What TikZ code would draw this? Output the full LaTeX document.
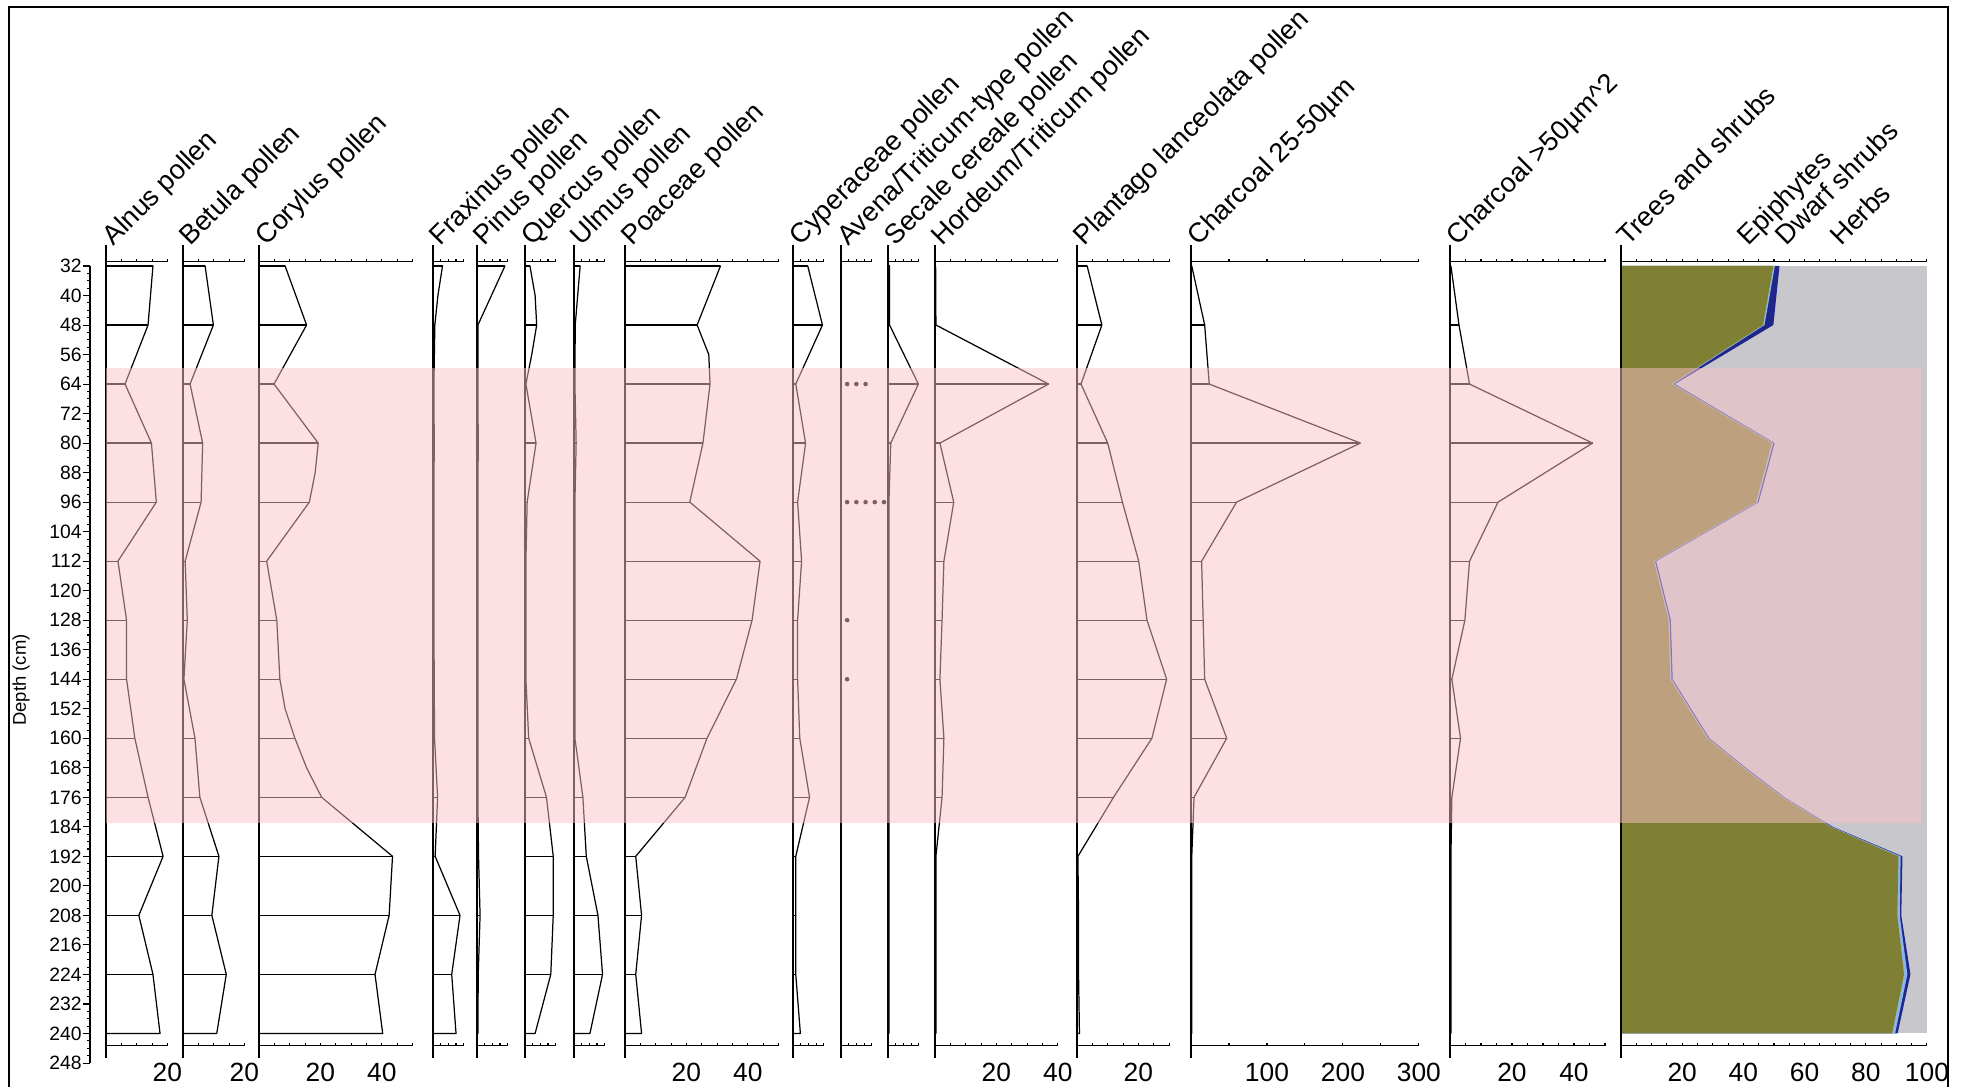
\documentclass[tikz,border=0pt]{standalone}
\usepackage{fontspec}
\setmainfont{Liberation Sans}
\definecolor{zonepink}{RGB}{251,193,199}
\definecolor{treesolive}{RGB}{127,128,51}
\definecolor{herbgrey}{RGB}{200,200,204}
\definecolor{dwarfnavy}{RGB}{32,38,138}
\definecolor{epiblue}{RGB}{140,182,232}
\tikzset{%
curve/.style={line width=0.7pt,line join=round},
bar/.style={line width=0.7pt},
zeroline/.style={line width=1pt},
scaleline/.style={line width=0.6pt},
title/.style={rotate=45,anchor=base west,inner sep=0pt,font=\fontsize{15.5}{18}\selectfont},
ticklabel/.style={inner sep=0pt,font=\fontsize{15}{17}\selectfont},
depthlabel/.style={anchor=east,inner sep=0pt,font=\fontsize{11}{13}\selectfont},
panel/.style 2 args={shift={(#1,147.92)},x=#2,y=-0.0738cm},
}
\tikzset{%
pics/.cd,
profile/.style args={#1#2#3}{
  code={\draw[curve] (0,32) \foreach \d/\v in #1 {-- (\v,\d)} -- (0,240);
       \foreach \d/\v in #1 {\pgfmathtruncatemacro\r{mod(\d,16)}
         \ifnum\r=0 \draw[bar] (0,\d) -- (\v,\d);\fi}
       \draw[zeroline] (0,26.3) -- (0,246.6);
       \draw[scaleline] (0,30.9) -- (#2,30.9) (0,243.4) -- (#2,243.4);
       \foreach \t in {0,#3,...,#2}
         \draw[scaleline] (\t,30.9) -- (\t,30.1) (\t,243.4) -- (\t,242.6);
  }
},
}
% depth/value
\def\alnus{32/15.3,48/13.7,64/6.2,80/14.8,96/16.4,112/3.9,128/6.7,144/6.7,160/9.4,176/13.7,192/18.6,208/10.7,224/15.3,240/17.6}
\def\betula{32/7.2,48/9.9,64/2.3,80/6.4,96/5.9,112/0.7,128/1.4,144/0.3,160/3.9,176/5.5,192/11.7,208/9.4,224/14.1,240/11.0}
\def\corylus{32/8.5,48/15.5,64/4.9,80/19.3,88/18.3,96/16.4,112/2.5,128/5.8,144/6.8,152/8.5,160/11.7,168/15.5,176/20.4,192/43.5,208/42.4,224/37.8,240/40.3}
\def\fraxinus{32/3.1,40/1.6,48/0.6,64/0.3,80/0.4,96/0.3,112/0.3,128/0.3,144/0.4,160/0.5,176/1.5,192/0.7,208/8.8,224/6.1,240/7.5}
\def\pinus{32/9.1,48/0.3,64/0.3,80/0.4,96/0.3,112/0.3,128/0.3,144/0.3,160/0.3,176/0.3,192/0.5,208/1.0,224/0.4,240/0.3}
\def\quercus{32/1.6,40/3.3,48/3.8,56/2.2,64/0.3,80/3.6,96/0.7,112/0.3,128/0.3,144/0.3,160/1.2,176/7.0,192/9.2,208/9.2,224/8.4,240/3.3}
\def\ulmus{32/2.0,48/0.4,64/0.3,80/0.7,96/0.3,112/0.3,128/0.3,144/0.3,160/0.3,176/2.9,192/4.0,208/7.8,224/9.3,240/5.2}
\def\poaceae{32/31.1,48/23.5,56/27.3,64/27.7,80/25.4,96/21.1,112/44.0,128/41.4,144/36.3,160/26.7,176/19.6,192/3.5,208/5.4,224/3.5,240/5.4}
\def\cyperaceae{32/4.8,48/9.6,64/0.9,80/4.1,96/1.5,112/2.8,128/1.5,144/1.5,160/2.2,176/5.4,192/0.9,208/0.9,224/0.9,240/2.4}
\def\avena{32/0,240/0}
\def\secale{32/0.5,48/0.5,64/9.9,80/0.9,96/0.3,112/0.3,128/0.3,144/0.3,160/0.3,176/0.3,192/0.3,208/0.3,224/0.3,240/0.3}
\def\hordeum{32/0.2,48/0.3,64/37.0,80/1.6,96/6.1,112/2.9,128/2.3,144/1.6,160/2.9,176/2.3,192/0.3,208/0.3,224/0.3,240/0.3}
\def\plantago{32/3.3,48/8.1,64/1.3,80/10.0,96/14.8,112/20.1,128/22.8,144/29.2,160/24.4,176/11.9,192/0.3,208/0.5,224/0.5,240/0.8}
\def\charsmall{32/1,48/18,64/24,80/223,96/60,112/14,128/16,144/18,160/47,176/4,192/1,208/1,224/1,240/1}
\def\charlarge{32/0.3,48/2.9,64/6.3,80/46.0,96/15.5,112/6.3,128/4.8,144/0.6,160/3.4,176/0.6,192/0.3,208/0.3,224/0.3,240/0.3}
\def\trees{32/49.8,48/46.4,64/16.5,80/49.3,96/44.1,112/10.7,128/15.5,144/16.1,160/28.1,168/40,176/52.6,184/68.4,192/90.7,208/90.3,224/92.5,240/88.6}
\def\epiph{32/50.3,48/46.9,64/17.0,80/49.8,96/44.6,112/11.1,128/15.9,144/16.5,160/28.5,168/40.4,176/53.0,184/68.8,192/91.4,208/91.1,224/93.6,240/89.6}
\def\dwarf{32/51.8,48/49.8,64/17.6,80/50.2,96/45.0,112/11.5,128/16.3,144/16.9,160/28.9,168/40.8,176/53.4,184/69.2,192/92.0,208/91.6,224/94.6,240/90.4}
\begin{document}
\begin{tikzpicture}[x=0.02cm,y=-0.02cm]
\useasboundingbox (0,0) rectangle (1962,1087);
\draw[line width=1.3pt] (9,1100) |- (1948,7) -- (1948,1100);
% depth scale
\draw[scaleline] (90,266) -- (90,1063);
\foreach \d in {32,34,...,248} \draw[scaleline] (90,{147.92+3.69*\d}) -- ++(-3.5,0);
\foreach \d in {32,40,...,248} {
  \draw[scaleline] (90,{147.92+3.69*\d}) -- ++(-7,0);
  \node[depthlabel] (depth\d) at (82,{147.92+3.69*\d}) {\d};
}
\node[rotate=90,inner sep=0pt,font=\fontsize{10.5}{12}\selectfont] (depthtitle) at (21,680) {Depth (cm)};
% summary diagram
\begin{scope}[panel={1621}{0.0612cm}]
  \fill[herbgrey] (0,32) rectangle (100,240);
  \fill[dwarfnavy] (0,32) \foreach \d/\v in \dwarf {-- (\v,\d)} -- (0,240) -- cycle;
  \fill[epiblue] (0,32) \foreach \d/\v in \epiph {-- (\v,\d)} -- (0,240) -- cycle;
  \fill[treesolive] (0,32) \foreach \d/\v in \trees {-- (\v,\d)} -- (0,240) -- cycle;
  \draw[zeroline] (0,26.3) -- (0,246.6);
  \draw[scaleline] (0,30.9) -- (100,30.9) (0,243.4) -- (100,243.4);
  \foreach \t in {0,5,...,100}
    \draw[scaleline] (\t,30.9) -- (\t,30.1) (\t,243.4) -- (\t,242.6);
  \foreach \l in {20,40,60,80,100} \node[ticklabel] (sum\l) at (\l,250.7) {\l};
\end{scope}
% taxa
\begin{scope}[panel={106}{0.0614cm}]
  \pic {profile={\alnus}{20}{5}};
  \node[ticklabel] (alnus20) at (20,250.7) {20};
\end{scope}
\begin{scope}[panel={183}{0.0614cm}]
  \pic {profile={\betula}{20}{5}};
  \node[ticklabel] (betula20) at (20,250.7) {20};
\end{scope}
\begin{scope}[panel={259}{0.0614cm}]
  \pic {profile={\corylus}{50}{5}};
  \foreach \l in {20,40} \node[ticklabel] (corylus\l) at (\l,250.7) {\l};
\end{scope}
\begin{scope}[panel={433}{0.0614cm}]
  \pic {profile={\fraxinus}{10}{2.5}};
\end{scope}
\begin{scope}[panel={477}{0.0614cm}]
  \pic {profile={\pinus}{10}{2.5}};
\end{scope}
\begin{scope}[panel={525}{0.0614cm}]
  \pic {profile={\quercus}{10}{2.5}};
\end{scope}
\begin{scope}[panel={574}{0.0614cm}]
  \pic {profile={\ulmus}{10}{2.5}};
\end{scope}
\begin{scope}[panel={625}{0.0614cm}]
  \pic {profile={\poaceae}{50}{5}};
  \foreach \l in {20,40} \node[ticklabel] (poaceae\l) at (\l,250.7) {\l};
\end{scope}
\begin{scope}[panel={793}{0.0614cm}]
  \pic {profile={\cyperaceae}{10}{2.5}};
\end{scope}
\begin{scope}[panel={841}{0.0614cm}]
  \pic {profile={\avena}{10}{2.5}};
  \foreach \d/\n in {64/3,96/5,128/1,144/1}
    \foreach \k in {1,...,\n} \fill (3*\k-1,\d) circle[radius=1.3pt];
\end{scope}
\begin{scope}[panel={888}{0.0614cm}]
  \pic {profile={\secale}{10}{2.5}};
\end{scope}
\begin{scope}[panel={935}{0.0614cm}]
  \pic {profile={\hordeum}{40}{5}};
  \foreach \l in {20,40} \node[ticklabel] (hordeum\l) at (\l,250.7) {\l};
\end{scope}
\begin{scope}[panel={1077}{0.0614cm}]
  \pic {profile={\plantago}{30}{5}};
  \node[ticklabel] (plantago20) at (20,250.7) {20};
\end{scope}
\begin{scope}[panel={1191}{0.0152cm}]
  \pic {profile={\charsmall}{300}{50}};
  \foreach \l in {100,200,300} \node[ticklabel] (charsmall\l) at (\l,250.7) {\l};
\end{scope}
\begin{scope}[panel={1450}{0.062cm}]
  \pic {profile={\charlarge}{50}{5}};
  \foreach \l in {20,40} \node[ticklabel] (charlarge\l) at (\l,250.7) {\l};
\end{scope}
% zone
\fill[zonepink,fill opacity=0.5] (106,368) rectangle (1921,823);
% column titles
\foreach \b/\t [count=\i] in {106/Alnus pollen,183/Betula pollen,259/Corylus pollen,
  433/Fraxinus pollen,477/Pinus pollen,525/Quercus pollen,574/Ulmus pollen,625/Poaceae pollen,
  793/Cyperaceae pollen,841/{Avena/Triticum-type pollen},888/Secale cereale pollen,
  935/{Hordeum/Triticum pollen},1077/Plantago lanceolata pollen,1191/Charcoal 25-50µm,
  1450/Charcoal >50µm\textasciicircum2,1621/Trees and shrubs,1741/Epiphytes,1779/Dwarf shrubs,1834/Herbs}
  \node[title] (title\i) at (\b+7,247) {\t};
\end{tikzpicture}
\end{document}
